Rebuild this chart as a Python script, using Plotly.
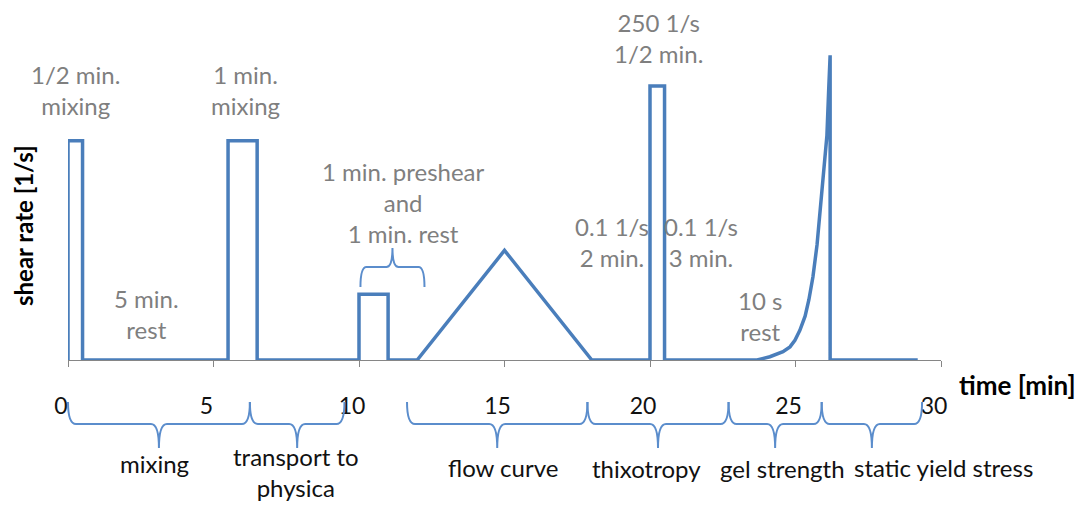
import plotly.graph_objects as go

# ---- data ----
time_min = [0, 0, 0.5, 0.5, 5.5, 5.5, 6.5, 6.5, 10, 10, 11, 11, 12, 15, 18,
            20, 20, 20.5, 20.5, 23.68, 24.12, 24.57, 24.81, 24.98, 25.15, 25.33,
            25.46, 25.6, 25.74, 25.85, 25.96, 26.08, 26.14, 26.19, 26.19, 29.2]
shear_rate = [0, 200, 200, 0, 0, 200, 200, 0, 0, 60, 60, 0, 0, 100, 0,
              0, 250, 250, 0, 0, 3, 7.6, 12, 18, 27, 40,
              55, 76, 105, 135, 170, 205, 246, 278, 0, 0]
x_ticks = [0, 5, 10, 15, 20, 25, 30]

phase_names = ["mixing", "transport to<br>physica", "flow curve", "thixotropy",
               "gel strength", "static yield stress"]
phase_start = [0, 6.25, 11.65, 17.85, 22.7, 25.9]
phase_end = [6.25, 9.5, 17.85, 22.7, 25.9, 29.35]

step_notes = ["1/2 min.<br>mixing", "1 min.<br>mixing", "5 min.<br>rest",
              "1 min. preshear<br>and<br>1 min. rest", "0.1 1/s<br>2 min.",
              "0.1 1/s<br>3 min.", "250 1/s<br>1/2 min.", "10 s<br>rest"]

# ---- layout geometry (pixels) ----
W, H = 1083, 506
L, R, T, B = 68, 142, 40, 146
PW, PH = W - L - R, H - T - B
XMAX, YMAX = 30, 292


def xp(px):
    return (px - L) / PW


def yp(py):
    return (H - B - py) / PH


def xm(t):
    return t / XMAX


FONT = "Lato, Calibri, Carlito, sans-serif"
BLUE = "#4a7ebb"
BRACE = "#5b8dcc"
GRAY = "#7f7f7f"

fig = go.Figure()
fig.add_trace(go.Scatter(x=time_min, y=shear_rate, mode="lines",
                         line=dict(color=BLUE, width=3.5), hoverinfo="skip",
                         showlegend=False))

shapes = []
annotations = []

# bottom phase braces
ytop, ymid, ytip = 402, 424, 448
for name, s, e in zip(phase_names, phase_start, phase_end):
    x0, x1 = xm(s), xm(e)
    xc = (x0 + x1) / 2
    dx = 8 / PW
    path = (f"M {x0},{yp(ytop)} Q {x0},{yp(ymid)} {x0+dx},{yp(ymid)} "
            f"L {xc-dx},{yp(ymid)} Q {xc},{yp(ymid)} {xc},{yp(ytip)} "
            f"Q {xc},{yp(ymid)} {xc+dx},{yp(ymid)} "
            f"L {x1-dx},{yp(ymid)} Q {x1},{yp(ymid)} {x1},{yp(ytop)}")
    shapes.append(dict(type="path", xref="paper", yref="paper", path=path,
                       line=dict(color=BRACE, width=2)))

label_pos = [(154, 463), (296, 472), (503, 467), (646, 468), (782, 468), (943, 467)]
for name, (px, py) in zip(phase_names, label_pos):
    annotations.append(dict(text=name, xref="paper", yref="paper", x=xp(px), y=yp(py),
                            xanchor="center", yanchor="middle", showarrow=False,
                            font=dict(family=FONT, size=24, color="#111111")))

# brace over preshear step
b0, b1 = 10.05, 12.25
x0, x1 = xm(b0), xm(b1)
xc = (x0 + x1) / 2
dx = 6 / PW
bt, bm, btip = 287, 267, 248
shapes.append(dict(type="path", xref="paper", yref="paper",
                   path=(f"M {x0},{yp(bt)} Q {x0},{yp(bm)} {x0+dx},{yp(bm)} "
                         f"L {xc-dx},{yp(bm)} Q {xc},{yp(bm)} {xc},{yp(btip)} "
                         f"Q {xc},{yp(bm)} {xc+dx},{yp(bm)} "
                         f"L {x1-dx},{yp(bm)} Q {x1},{yp(bm)} {x1},{yp(bt)}"),
                   line=dict(color=BRACE, width=2)))

note_pos = [(75, 90), (245, 90), (146, 314), (403, 202), (612, 242),
            (701, 242), (658, 38), (760, 316)]
for txt, (px, py) in zip(step_notes, note_pos):
    annotations.append(dict(text=txt, xref="paper", yref="paper", x=xp(px), y=yp(py),
                            xanchor="center", yanchor="middle", showarrow=False,
                            font=dict(family=FONT, size=24, color=GRAY)))

# axis titles
annotations.append(dict(text="<b>time [min]</b>", xref="paper", yref="paper",
                        x=xp(1018), y=yp(385), xanchor="center", yanchor="middle",
                        showarrow=False, font=dict(family=FONT, size=26, color="#000000")))
annotations.append(dict(text="<b>shear rate [1/s]</b>", xref="paper", yref="paper",
                        x=xp(23), y=yp(226), xanchor="center", yanchor="middle",
                        textangle=-90, showarrow=False,
                        font=dict(family=FONT, size=24, color="#000000")))

fig.update_layout(
    width=W, height=H,
    margin=dict(l=L, r=R, t=T, b=B),
    paper_bgcolor="white", plot_bgcolor="white",
    shapes=shapes, annotations=annotations,
    xaxis=dict(range=[0, XMAX], tickvals=x_ticks, ticktext=[str(v) for v in x_ticks],
               showgrid=False, zeroline=False, showline=True, linecolor="#868686",
               linewidth=1, ticks="outside", ticklen=6, tickcolor="#868686",
               ticklabelstandoff=19, ticklabelshift=-7,
               tickfont=dict(family=FONT, size=23, color="#111111"), fixedrange=True),
    yaxis=dict(range=[0, YMAX], visible=False, fixedrange=True),
)

fig.write_html("out.html")
